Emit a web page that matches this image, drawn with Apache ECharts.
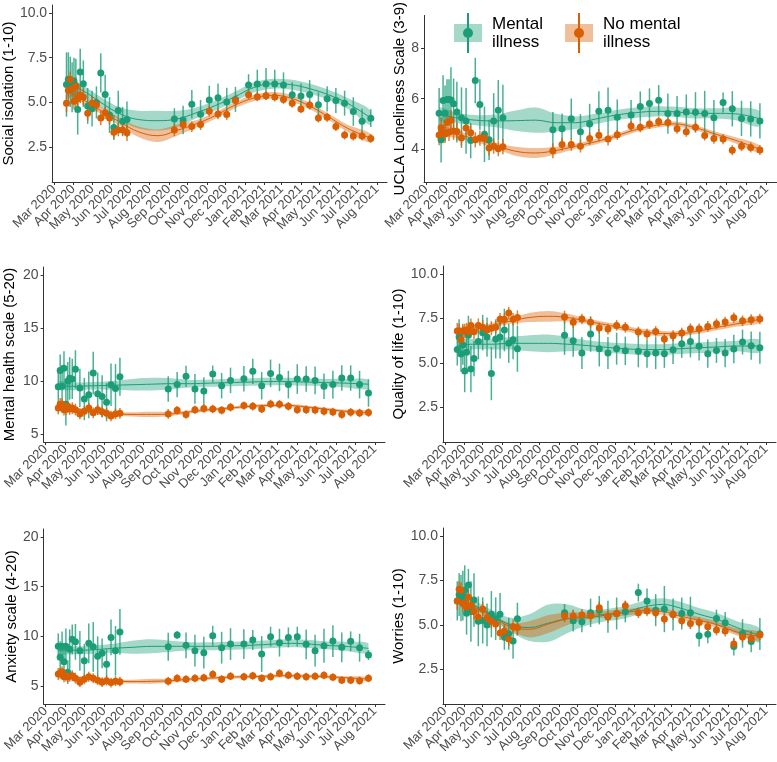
<!DOCTYPE html>
<html>
<head>
<meta charset="UTF-8">
<title>Wellbeing by mental illness status, 2020-2021</title>
<script src="https://cdn.jsdelivr.net/npm/echarts@6/dist/echarts.min.js"></script>
<style>
  html, body { margin: 0; padding: 0; background: #fff; }
  #chart { width: 777px; height: 762px; }
</style>
</head>
<body>
<div id="chart"></div>
<script>
// survey waves (shared by every panel)
const waveDates = ['2020-03-21','2020-03-24','2020-03-27','2020-03-30','2020-04-02','2020-04-05','2020-04-08','2020-04-12','2020-04-17',
  '2020-04-24','2020-05-01','2020-05-08','2020-05-15','2020-05-22','2020-05-29','2020-06-05','2020-06-12','2020-06-19','2020-06-26',
  '2020-09-10','2020-09-24','2020-10-08','2020-10-22','2020-11-05','2020-11-19','2020-12-03','2020-12-17',
  '2021-01-07','2021-01-21','2021-02-04','2021-02-18','2021-03-04','2021-03-18','2021-04-01','2021-04-15','2021-04-29',
  '2021-05-13','2021-05-27','2021-06-10','2021-06-24','2021-07-08','2021-07-22'];
// dates where the smooth fit is sampled
const fitDates = ['2020-03-21','2020-04-15','2020-05-15','2020-06-15','2020-07-15','2020-08-15','2020-09-15','2020-10-15','2020-11-15',
  '2020-12-15','2021-01-15','2021-02-15','2021-03-15','2021-04-15','2021-05-15','2021-06-15','2021-07-22'];
const tickDates = ['2020-03-01','2020-04-01','2020-05-01','2020-06-01','2020-07-01','2020-08-01','2020-09-01','2020-10-01','2020-11-01',
  '2020-12-01','2021-01-01','2021-02-01','2021-03-01','2021-04-01','2021-05-01','2021-06-01','2021-07-01','2021-08-01'];
const tickLabels = ['Mar 2020','Apr 2020','May 2020','Jun 2020','Jul 2020','Aug 2020','Sep 2020','Oct 2020','Nov 2020',
  'Dec 2020','Jan 2021','Feb 2021','Mar 2021','Apr 2021','May 2021','Jun 2021','Jul 2021','Aug 2021'];

// social isolation
const isoMI = [6.0,6.3,6.15,5.85,6.2,5.95,4.6,6.7,6.05,4.8,4.65,5.0,6.65,5.45,4.3,3.6,4.55,3.95,4.05,
  4.08,4.02,4.9,4.34,5.13,5.26,5.02,5.17,5.98,6.03,6.03,6.03,5.98,5.43,5.36,5.45,4.87,5.2,5.11,4.96,4.49,3.95,4.12];
const isoMIErr = [1.8,1.5,1.4,1.4,1.3,1.5,1.4,1.3,1.3,1.0,1.0,0.9,1.1,1.1,1.0,0.7,1.1,0.8,1.0,
  0.6,0.8,0.8,0.8,0.8,0.8,0.8,0.7,0.6,0.8,0.9,0.8,0.7,0.7,0.7,0.8,0.7,0.7,0.7,0.7,0.8,0.7,0.5];
const isoNo = [4.95,5.68,6.28,5.77,5.07,5.9,5.2,5.4,5.3,4.4,4.96,4.87,4.13,4.42,4.13,3.33,3.46,3.46,3.3,
  3.46,3.76,3.65,3.76,4.51,4.36,4.32,5.11,5.43,5.32,5.38,5.3,5.17,4.96,4.64,4.85,4.13,4.17,3.65,3.18,3.12,3.12,2.99];
const isoNoErr = [0.5,0.5,0.45,0.45,0.45,0.5,0.45,0.45,0.45,0.4,0.4,0.4,0.4,0.35,0.35,0.35,0.35,0.35,0.45,
  0.35,0.3,0.3,0.3,0.3,0.3,0.3,0.3,0.25,0.25,0.25,0.25,0.25,0.25,0.25,0.25,0.25,0.25,0.25,0.25,0.25,0.25,0.25];
const isoFitMI = [5.96,5.68,5.0,4.36,4.04,3.98,4.08,4.42,4.83,5.3,5.83,6.05,6.0,5.77,5.43,4.95,4.13];
const isoBandMI = [0.35,0.3,0.3,0.35,0.5,0.55,0.45,0.3,0.28,0.28,0.28,0.28,0.28,0.28,0.28,0.3,0.4];
const isoFitNo = [5.65,5.2,4.55,3.9,3.35,3.14,3.45,3.8,4.27,4.83,5.24,5.4,5.25,4.8,4.2,3.55,3.0];
const isoBandNo = [0.25,0.2,0.2,0.22,0.3,0.35,0.3,0.2,0.18,0.18,0.18,0.18,0.18,0.18,0.18,0.2,0.25];

// UCLA loneliness
const lonMI = [5.42,4.37,5.93,5.42,5.97,5.97,5.95,5.8,5.47,5.25,5.12,4.34,6.72,5.77,4.59,4.37,5.12,5.54,5.25,
  4.77,4.81,5.21,4.69,5.0,5.5,5.54,5.27,5.35,5.69,5.81,5.94,5.41,5.41,5.47,5.46,5.41,5.25,5.85,5.6,5.22,5.2,5.12];
const lonMIErr = [1.0,0.9,1.0,1.1,0.8,0.8,1.3,1.0,1.2,1.2,1.3,0.7,0.9,1.0,1.1,0.8,1.1,1.2,1.3,
  0.7,0.6,0.8,0.7,0.8,0.8,0.9,0.7,0.6,0.6,0.6,0.6,0.8,0.7,0.7,0.8,0.9,0.7,0.4,0.7,0.7,0.7,0.7];
const lonNo = [4.56,4.85,4.62,4.6,5.06,4.67,5.15,4.72,4.7,4.44,4.84,4.65,4.37,4.44,4.44,4.05,4.12,4.02,4.1,
  3.94,4.19,4.19,4.12,4.42,4.55,4.4,4.57,4.92,4.87,5.0,5.1,5.06,4.81,4.69,4.87,4.54,4.42,4.4,3.96,4.12,4.07,3.97];
const lonNoErr = [0.4,0.4,0.35,0.35,0.35,0.35,0.4,0.35,0.35,0.3,0.3,0.3,0.3,0.3,0.3,0.3,0.3,0.3,0.3,
  0.3,0.25,0.25,0.25,0.25,0.25,0.25,0.2,0.2,0.2,0.2,0.2,0.2,0.2,0.2,0.2,0.2,0.2,0.2,0.2,0.2,0.2,0.2];
const lonFitMI = [5.4,5.25,5.15,5.12,5.13,5.15,5.05,5.05,5.2,5.35,5.45,5.5,5.48,5.42,5.42,5.4,5.2];
const lonBandMI = [0.25,0.2,0.2,0.25,0.4,0.5,0.35,0.25,0.2,0.2,0.2,0.2,0.2,0.2,0.2,0.25,0.3];
const lonFitNo = [4.75,4.6,4.4,4.15,3.92,3.85,3.95,4.12,4.3,4.52,4.78,4.95,5.0,4.85,4.6,4.35,4.0];
const lonBandNo = [0.2,0.15,0.12,0.12,0.18,0.2,0.15,0.1,0.1,0.1,0.1,0.1,0.1,0.1,0.1,0.12,0.15];

// mental health scale
const mhMI = [9.45,11.0,9.5,11.2,7.8,10.0,10.25,10.2,11.1,9.35,8.3,8.7,10.75,8.8,8.55,8.0,9.65,9.3,10.4,
  9.25,9.66,10.44,9.25,9.06,10.66,9.56,10.06,10.22,10.91,9.56,10.72,10.34,9.66,10.19,10.19,10.06,9.5,9.66,10.28,10.28,9.66,8.87];
const mhMIErr = [1.8,1.5,2.0,1.6,2.0,1.8,2.0,1.9,1.8,1.8,2.0,2.2,2.0,2.0,2.0,1.8,2.0,2.3,1.8,
  1.2,1.2,1.0,1.4,1.3,0.8,1.2,1.2,1.2,1.2,1.3,1.3,1.3,1.3,1.4,1.2,1.3,1.2,1.3,1.2,1.2,1.3,1.3];
const mhNo = [7.45,7.8,7.8,7.3,7.35,7.6,7.35,7.45,7.3,6.9,7.15,7.45,7.0,7.3,7.1,6.95,6.7,6.9,6.95,
  6.9,7.24,6.84,7.3,7.4,7.37,7.24,7.52,7.68,7.62,7.37,7.84,7.81,7.62,7.3,7.3,7.27,7.15,7.08,6.84,7.05,6.99,7.02];
const mhNoErr = [0.6,0.6,0.55,0.55,0.55,0.6,0.55,0.55,0.55,0.5,0.5,0.5,0.5,0.5,0.5,0.5,0.5,0.5,0.5,
  0.45,0.4,0.4,0.4,0.4,0.4,0.4,0.4,0.4,0.4,0.4,0.4,0.4,0.4,0.4,0.4,0.4,0.4,0.4,0.4,0.4,0.4,0.4];
const mhFitMI = [9.55,9.5,9.55,9.6,9.65,9.7,9.75,9.75,9.8,9.85,9.9,9.95,9.95,9.9,9.85,9.8,9.7];
const mhBandMI = [0.4,0.35,0.35,0.4,0.55,0.6,0.5,0.35,0.35,0.35,0.35,0.35,0.35,0.35,0.35,0.4,0.45];
const mhFitNo = [7.55,7.35,7.15,6.95,6.85,6.85,6.9,7.1,7.3,7.45,7.6,7.7,7.7,7.55,7.35,7.15,7.0];
const mhBandNo = [0.2,0.15,0.15,0.15,0.2,0.25,0.2,0.15,0.15,0.15,0.15,0.15,0.15,0.15,0.15,0.15,0.2];

// quality of life
const qolMI = [5.75,6.45,5.5,6.0,4.55,5.6,6.55,4.65,5.25,6.2,6.7,6.45,4.4,6.35,6.45,6.85,6.1,6.3,5.8,
  6.55,6.25,5.55,6.62,5.8,5.55,5.8,5.68,5.65,5.52,5.55,5.52,5.74,6.08,6.21,5.93,5.52,5.7,5.55,5.78,6.17,5.97,5.85];
const qolMIErr = [0.9,1.0,1.0,1.1,1.2,1.2,1.1,1.3,1.0,1.0,1.0,1.1,1.5,1.1,1.2,1.2,1.1,1.1,1.3,
  1.1,0.9,0.9,1.0,1.0,0.9,0.9,0.8,0.9,0.8,0.9,0.8,0.8,0.8,0.9,0.8,0.8,0.7,0.8,0.8,0.7,0.8,0.9];
const qolNo = [6.8,6.8,6.3,6.8,6.8,6.85,6.75,7.1,6.75,7.1,7.0,6.85,6.95,7.0,7.45,7.45,7.8,7.45,7.55,
  7.58,7.28,7.47,7.28,6.96,6.9,7.11,7.0,6.74,6.62,6.77,6.34,6.53,6.68,6.92,6.92,7.05,7.2,7.3,7.54,7.37,7.43,7.47];
const qolNoErr = [0.45,0.4,0.4,0.4,0.4,0.4,0.4,0.4,0.4,0.4,0.4,0.4,0.4,0.35,0.35,0.35,0.35,0.35,0.4,
  0.35,0.3,0.3,0.3,0.3,0.3,0.3,0.3,0.3,0.3,0.3,0.3,0.3,0.3,0.3,0.3,0.3,0.3,0.3,0.3,0.3,0.3,0.3];
const qolFitMI = [5.95,6.05,6.05,6.1,6.1,6.1,6.05,5.98,5.88,5.8,5.75,5.75,5.8,5.85,5.9,5.95,5.95];
const qolBandMI = [0.35,0.3,0.3,0.35,0.45,0.5,0.4,0.3,0.3,0.3,0.3,0.3,0.3,0.3,0.3,0.3,0.35];
const qolFitNo = [6.75,6.85,7.1,7.35,7.55,7.62,7.55,7.35,7.15,6.95,6.75,6.65,6.65,6.8,7.0,7.2,7.45];
const qolBandNo = [0.2,0.15,0.15,0.15,0.25,0.3,0.22,0.15,0.15,0.15,0.15,0.15,0.15,0.15,0.15,0.15,0.2];

// anxiety scale
const anxMI = [9.0,7.9,9.0,7.45,9.0,6.4,8.7,9.7,9.45,8.55,7.55,9.3,8.95,8.0,8.3,7.2,9.9,8.55,10.45,
  8.96,10.13,9.1,8.56,8.36,10.07,8.86,9.23,9.23,9.63,8.23,9.97,9.37,9.9,9.97,9.2,8.56,9.06,9.53,8.9,9.5,8.86,8.13];
const anxMIErr = [1.3,1.6,1.5,1.8,1.8,1.2,2.0,1.5,1.8,2.0,1.7,2.0,2.5,2.0,1.5,1.5,1.8,2.5,2.3,
  1.4,0.4,1.3,1.6,1.6,1.0,1.6,1.6,1.5,1.0,1.8,1.0,1.4,1.0,1.0,1.5,1.6,1.7,1.6,1.5,1.0,1.4,0.5];
const anxNo = [6.22,6.29,6.45,5.95,6.02,5.95,6.0,6.05,5.8,5.4,5.7,5.95,5.8,5.6,5.4,5.55,5.35,5.5,5.45,
  5.5,5.8,5.7,5.8,5.85,6.2,5.7,6.0,5.95,6.05,5.8,5.95,6.3,6.1,6.0,5.95,6.0,6.1,5.9,5.6,5.6,5.55,5.8];
const anxNoErr = [0.6,0.55,0.55,0.55,0.55,0.55,0.55,0.55,0.55,0.5,0.5,0.5,0.5,0.5,0.5,0.5,0.5,0.5,0.5,
  0.45,0.4,0.4,0.4,0.4,0.4,0.4,0.4,0.4,0.4,0.4,0.4,0.4,0.4,0.4,0.4,0.4,0.4,0.4,0.4,0.4,0.4,0.4];
const anxFitMI = [8.6,8.6,8.65,8.8,8.9,9.0,9.0,9.0,9.0,9.05,9.1,9.2,9.3,9.25,9.1,9.0,8.8];
const anxBandMI = [0.45,0.4,0.4,0.45,0.65,0.7,0.55,0.4,0.4,0.4,0.4,0.4,0.4,0.4,0.4,0.45,0.5];
const anxFitNo = [6.1,5.9,5.75,5.55,5.45,5.48,5.55,5.7,5.8,5.9,5.95,6.0,6.05,6.0,5.95,5.85,5.7];
const anxBandNo = [0.2,0.15,0.15,0.15,0.2,0.25,0.2,0.15,0.15,0.15,0.15,0.15,0.15,0.15,0.15,0.15,0.2];

// worries
const worMI = [6.35,6.7,6.5,6.65,6.95,5.65,7.25,5.75,6.4,5.2,5.25,5.0,5.6,5.35,5.6,4.3,4.5,4.1,5.35,
  5.68,5.23,5.18,5.68,5.83,5.46,5.64,5.74,6.82,6.34,5.83,5.89,5.59,5.64,5.68,4.39,4.47,5.36,5.12,3.78,4.52,4.06,4.49];
const worMIErr = [1.1,1.2,1.3,1.4,1.4,1.2,0.9,1.7,1.5,1.4,1.3,1.2,1.3,1.2,1.2,0.7,0.9,1.0,0.9,
  0.5,0.6,0.6,0.8,0.8,0.9,0.9,0.6,0.5,0.7,0.9,1.3,0.9,0.9,0.9,0.6,0.5,0.5,0.6,0.5,0.8,0.6,0.9];
const worNo = [6.35,7.0,6.95,6.2,6.1,6.0,6.55,6.1,5.75,5.45,5.9,5.4,5.2,5.05,4.55,4.65,4.2,4.9,4.85,
  5.51,5.5,5.55,5.51,5.96,5.46,5.64,6.07,5.68,5.78,5.68,5.33,5.59,5.23,5.08,5.14,4.9,4.71,4.65,3.93,4.32,4.22,4.43];
const worNoErr = [0.5,0.45,0.45,0.45,0.45,0.45,0.45,0.45,0.45,0.4,0.4,0.4,0.4,0.4,0.4,0.4,0.4,0.4,0.45,
  0.35,0.35,0.35,0.35,0.35,0.35,0.35,0.3,0.3,0.3,0.3,0.3,0.3,0.3,0.3,0.3,0.3,0.3,0.3,0.3,0.3,0.3,0.3];
const worFitMI = [6.6,6.15,5.55,5.0,4.85,5.1,5.35,5.4,5.55,5.7,6.0,6.15,5.95,5.6,5.3,4.85,4.4];
const worBandMI = [0.35,0.3,0.3,0.4,0.75,1.05,0.8,0.45,0.35,0.35,0.35,0.35,0.35,0.35,0.35,0.35,0.4];
const worFitNo = [6.5,6.05,5.5,4.9,4.75,5.05,5.35,5.5,5.6,5.7,5.8,5.75,5.5,5.25,5.0,4.6,4.35];
const worBandNo = [0.2,0.15,0.15,0.2,0.45,0.5,0.35,0.2,0.18,0.18,0.18,0.18,0.18,0.18,0.18,0.2,0.25];

const GREEN = '#1B9E77';
const ORANGE = '#D95F02';
const FONT = 'Liberation Sans, Arial, sans-serif';

const toTime = s => new Date(s + 'T00:00:00').getTime();
const tickTimes = tickDates.map(toTime);
const xMin = toTime('2020-02-27');
const xMax = toTime('2021-08-17');

const panels = [
  { title: 'Social isolation (1-10)', min: 0.55, max: 10.45, ticks: [2.5, 5, 7.5, 10], dec: 1,
    grid: { left: 52, top: 5, width: 335, height: 177 }, gap: 36,
    mi: [isoMI, isoMIErr, isoFitMI, isoBandMI], no: [isoNo, isoNoErr, isoFitNo, isoBandNo] },
  { title: 'UCLA Loneliness Scale (3-9)', min: 2.7, max: 9.3, ticks: [4, 6, 8], dec: 0,
    grid: { left: 424, top: 5, width: 353, height: 177 }, gap: 16,
    mi: [lonMI, lonMIErr, lonFitMI, lonBandMI], no: [lonNo, lonNoErr, lonFitNo, lonBandNo] },
  { title: 'Mental health scale (5-20)', min: 4.25, max: 20.75, ticks: [5, 10, 15, 20], dec: 0,
    grid: { left: 42, top: 267, width: 343, height: 175 }, gap: 26,
    mi: [mhMI, mhMIErr, mhFitMI, mhBandMI], no: [mhNo, mhNoErr, mhFitNo, mhBandNo] },
  { title: 'Quality of life (1-10)', min: 0.55, max: 10.45, ticks: [2.5, 5, 7.5, 10], dec: 1,
    grid: { left: 443, top: 266, width: 333, height: 176 }, gap: 35,
    mi: [qolMI, qolMIErr, qolFitMI, qolBandMI], no: [qolNo, qolNoErr, qolFitNo, qolBandNo] },
  { title: 'Anxiety scale (4-20)', min: 3.2, max: 20.8, ticks: [5, 10, 15, 20], dec: 0,
    grid: { left: 40, top: 529, width: 345, height: 175 }, gap: 22,
    mi: [anxMI, anxMIErr, anxFitMI, anxBandMI], no: [anxNo, anxNoErr, anxFitNo, anxBandNo] },
  { title: 'Worries (1-10)', min: 0.55, max: 10.45, ticks: [2.5, 5, 7.5, 10], dec: 1,
    grid: { left: 443, top: 528, width: 333, height: 176 }, gap: 35,
    mi: [worMI, worMIErr, worFitMI, worBandMI], no: [worNo, worNoErr, worFitNo, worBandNo] }
];

const groups = [
  { key: 'mi', name: 'Mental illness', color: GREEN, band: 'rgba(27,158,119,0.4)' },
  { key: 'no', name: 'No mental illness', color: ORANGE, band: 'rgba(217,95,2,0.4)' }
];

// whole ribbon drawn once, from all rows of the series data
function renderBand(params, api) {
  if (params.dataIndexInside !== 0) return null;
  const n = params.dataInsideLength;
  const upper = [], lower = [];
  for (let k = 0; k < n; k++) {
    upper.push(api.coord([api.value(0, k), api.value(2, k)]));
    lower.unshift(api.coord([api.value(0, k), api.value(1, k)]));
  }
  return {
    type: 'polygon',
    shape: {
      points: upper.concat(lower),
      smooth: 0.35,
      smoothConstraint: [[Infinity, Infinity], [-Infinity, -Infinity]]
    },
    style: { fill: api.visual('color') }
  };
}

function renderErrorBar(params, api) {
  const a = api.coord([api.value(0), api.value(1)]);
  const b = api.coord([api.value(0), api.value(2)]);
  return {
    type: 'line',
    shape: { x1: a[0], y1: a[1], x2: b[0], y2: b[1] },
    style: { stroke: api.visual('color'), lineWidth: 1.5, opacity: 0.8 }
  };
}

const grids = [], xAxes = [], yAxes = [], series = [];

panels.forEach((p, i) => {
  grids.push(p.grid);
  xAxes.push({
    type: 'value', gridIndex: i, min: xMin, max: xMax,
    axisLine: { lineStyle: { color: '#333', width: 1 } },
    axisTick: { customValues: tickTimes, length: 3, lineStyle: { color: '#333' } },
    axisLabel: {
      customValues: tickTimes, rotate: 45, margin: 5, fontSize: 13, color: '#4D4D4D', fontFamily: FONT,
      formatter: v => tickLabels[tickTimes.indexOf(v)] || ''
    },
    splitLine: { show: false }
  });
  yAxes.push({
    type: 'value', gridIndex: i, min: p.min, max: p.max,
    name: p.title, nameLocation: 'middle', nameRotate: 90, nameGap: p.gap,
    nameTextStyle: { fontSize: 15, color: '#000', fontFamily: FONT },
    axisLine: { show: true, lineStyle: { color: '#333', width: 1 } },
    axisTick: { show: true, customValues: p.ticks, length: 3, lineStyle: { color: '#333' } },
    axisLabel: {
      customValues: p.ticks, margin: 5, fontSize: 14, color: '#4D4D4D', fontFamily: FONT,
      formatter: v => v.toFixed(p.dec)
    },
    splitLine: { show: false }
  });

  // confidence ribbons, then fitted lines
  groups.forEach(g => {
    const [, , fit, band] = p[g.key];
    series.push({
      type: 'custom', xAxisIndex: i, yAxisIndex: i, silent: true, z: 1,
      itemStyle: { color: g.band },
      encode: { x: 0, y: [1, 2] },
      data: fitDates.map((d, k) => [toTime(d), fit[k] - band[k], fit[k] + band[k]]),
      renderItem: renderBand
    });
  });
  groups.forEach(g => {
    const fit = p[g.key][2];
    series.push({
      type: 'line', xAxisIndex: i, yAxisIndex: i, smooth: 0.4, symbol: 'none', silent: true, z: 2,
      lineStyle: { color: g.color, width: 1 },
      data: fitDates.map((d, k) => [toTime(d), fit[k]])
    });
  });

  // error bars and means
  groups.forEach(g => {
    const [mean, err] = p[g.key];
    series.push({
      type: 'custom', xAxisIndex: i, yAxisIndex: i, silent: true, z: 3,
      itemStyle: { color: g.color },
      encode: { x: 0, y: [1, 2] },
      data: waveDates.map((d, k) => [toTime(d), mean[k] - err[k], mean[k] + err[k]]),
      renderItem: renderErrorBar
    });
    series.push({
      type: 'scatter', name: g.name, xAxisIndex: i, yAxisIndex: i, z: 3,
      symbolSize: 7, itemStyle: { color: g.color, opacity: 1 },
      data: waveDates.map((d, k) => [toTime(d), mean[k]])
    });
  });
});

const keyIcon = (dark, light) => 'image://data:image/svg+xml;charset=utf-8,' + encodeURIComponent(
  '<svg xmlns="http://www.w3.org/2000/svg" width="28" height="40" viewBox="0 0 28 40">' +
  '<rect x="0" y="11" width="28" height="18" fill="' + light + '"/>' +
  '<line x1="14" y1="0" x2="14" y2="40" stroke="' + dark + '" stroke-width="2"/>' +
  '<circle cx="14" cy="20" r="5" fill="' + dark + '"/></svg>');

const chart = echarts.init(document.getElementById('chart'));
chart.setOption({
  animation: false,
  backgroundColor: '#fff',
  textStyle: { fontFamily: FONT },
  legend: {
    left: 454, top: 13, padding: 0, itemWidth: 28, itemHeight: 40, itemGap: 22,
    selectedMode: false,
    data: [
      { name: 'Mental illness', icon: keyIcon(GREEN, '#A4D8C8') },
      { name: 'No mental illness', icon: keyIcon(ORANGE, '#F0BF9A') }
    ],
    formatter: n => n === 'Mental illness' ? 'Mental\nillness' : 'No mental\nillness',
    textStyle: { fontSize: 17, lineHeight: 18, color: '#000', fontFamily: FONT, padding: [0, 0, 0, 5] }
  },
  grid: grids,
  xAxis: xAxes,
  yAxis: yAxes,
  series
});
</script>
</body>
</html>
